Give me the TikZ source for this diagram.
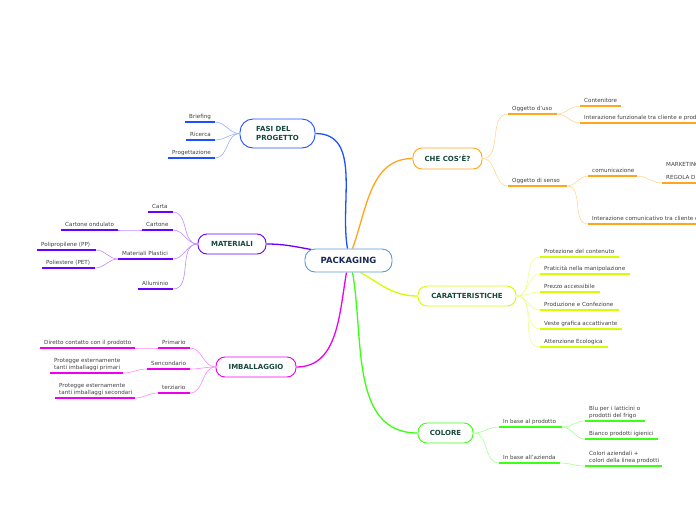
\documentclass[tikz,border=0pt]{standalone}
\usepackage{fontspec}
\setmainfont{DejaVu Sans}
\usetikzlibrary{positioning,backgrounds}
\definecolor{pkgline}{HTML}{5B9BD5}
\definecolor{pkgtext}{HTML}{1B2A55}
\definecolor{topictext}{HTML}{17483B}
\definecolor{leaftext}{HTML}{404040}
\definecolor{fasi}{HTML}{1F4FFF}
\definecolor{mat}{HTML}{6A00FF}
\definecolor{imb}{HTML}{EE00EE}
\definecolor{che}{HTML}{FFA51F}
\definecolor{car}{HTML}{D4FF00}
\definecolor{colore}{HTML}{3CFF14}

\begin{document}
\begin{tikzpicture}[x=1pt,y=-1pt,
    topic/.style={draw,line width=0.9pt,fill=white,rounded corners=9pt,inner sep=0pt,align=left,
      text=topictext,font=\bfseries\fontsize{7}{8.5}\selectfont,minimum height=20pt},
    leaf/.style={anchor=base west,inner sep=0pt,align=left,text=leaftext,font=\fontsize{5.6}{6.6}\selectfont},
    uline/.style={line width=1.3pt},
    twig/.style={line width=0.6pt},
    branch/.style={line width=1.3pt}]
\useasboundingbox (0,0) rectangle (696,520);
% root and the six main topics
\node[topic,draw=pkgline,text=pkgtext,font=\bfseries\fontsize{8.5}{10}\selectfont,minimum width=87pt,minimum height=23pt,rounded corners=10pt] (pkg) at (348.5,260.5) {PACKAGING};
\node[topic,draw=fasi,minimum width=75pt,minimum height=29pt,rounded corners=13pt] (fasi) at (277.5,133.5) {FASI DEL\\PROGETTO};
\node[topic,draw=mat,minimum width=68pt] (mat) at (232,244) {MATERIALI};
\node[topic,draw=imb,minimum width=80pt] (imb) at (256,367) {IMBALLAGGIO};
\node[topic,draw=che,minimum width=69pt,minimum height=21pt] (che) at (447.5,158.5) {CHE COS'È?};
\node[topic,draw=car,minimum width=98pt] (car) at (467,296) {CARATTERISTICHE};
\node[topic,draw=colore,minimum width=55pt] (colore) at (445.5,433) {COLORE};
% main branches, kept under the nodes
\begin{scope}[on background layer]
\draw[branch,fasi] ([xshift=-1pt]pkg.north) to[out=100,in=0] (fasi.east);
\draw[branch,che] ([xshift=4pt]pkg.north) to[out=70,in=180] (che.west);
\draw[branch,mat] ([xshift=7pt,yshift=-1pt]pkg.north west) to[out=170,in=0] (mat.east);
\draw[branch,imb] ([xshift=-2pt]pkg.south) to[out=-100,in=0] (imb.east);
\draw[branch,colore] ([xshift=4pt]pkg.south) to[out=-80,in=180] (colore.west);
\draw[branch,car] ([xshift=12pt]pkg.south) to[out=-30,in=180] (car.west);
\end{scope}
% left side: twig runs from the parent to the right end of the underline
\foreach \nm/\pa/\xa/\xb/\yy/\cc/\tx in {
    brief/fasi.west/185/215/122/fasi/Briefing,
    ric/fasi.west/186/215/140/fasi/Ricerca,
    prog/fasi.west/168/215/158/fasi/Progettazione,
    carta/mat.west/148/173/212/mat/Carta,
    cart/mat.west/142/173/230/mat/Cartone,
    plast/mat.west/118/173/259/mat/Materiali Plastici,
    allu/mat.west/138/173/289/mat/Alluminio,
    ond/cart-l/61/118/230/mat/Cartone ondulato,
    pp/plast-l/37/96/250/mat/Polipropilene (PP),
    pet/plast-l/42/95/268/mat/Poliestere (PET),
    prim/imb.west/158/190/348/imb/Primario,
    sec/imb.west/147/190/369/imb/Sencondario,
    terz/imb.west/158/190/393/imb/terziario,
    dir/prim-l/40/135/348/imb/Diretto contatto con il prodotto,
    prot/sec-l/50/123/373/imb/Protegge esternamente\\tanti imballaggi primari,
    prots/terz-l/55/135/398/imb/Protegge esternamente\\tanti imballaggi secondari} {
  \coordinate (\nm-l) at (\xa,\yy);
  \coordinate (\nm-r) at (\xb,\yy);
  \draw[twig,color=\cc!45] (\pa) to[out=180,in=0] (\nm-r);
  \draw[uline,color=\cc] (\nm-l) -- (\nm-r);
  \node[leaf] (\nm) at ([xshift=4pt,yshift=4pt]\nm-l) {\tx};
}
% right side: twig runs from the parent to the left end of the underline
\foreach \nm/\pa/\xa/\xb/\yy/\cc/\tx in {
    uso/che.east/508/557/114/che/Oggetto d'uso,
    senso/che.east/508/567/186/che/Oggetto di senso,
    cont/uso-r/580/621/106/che/Contenitore,
    funz/uso-r/580/740/123/che/Interazione funzionale tra cliente e prodotto,
    com/senso-r/588/637/176/che/comunicazione,
    icom/senso-r/588/740/224/che/Interazione comunicativo tra cliente e prodotto,
    mkt/com-r/662/740/183/che/MARKETING\\[6.4pt]REGOLA DI,
    c1/car.east/540/619/257/car/Protezione del contenuto,
    c2/car.east/540/630/274/car/Praticità nella manipolazione,
    c3/car.east/540/600/292/car/Prezzo accessibile,
    c4/car.east/540/619/310/car/Produzione e Confezione,
    c5/car.east/540/622/329/car/Veste grafica accattivante,
    c6/car.east/540/608/347/car/Attenzione Ecologica,
    prod/colore.east/499/562/427/colore/In base al prodotto,
    az/colore.east/499/560/463/colore/In base all'azienda,
    blu/prod-r/585/645/421/colore/Blu per i latticini o\\prodotti del frigo,
    bianco/prod-r/585/658/439/colore/Bianco prodotti igienici,
    colaz/az-r/585/662/466/colore/Colori aziendali +\\colori della linea prodotti} {
  \coordinate (\nm-l) at (\xa,\yy);
  \coordinate (\nm-r) at (\xb,\yy);
  \draw[twig,color=\cc!45] (\pa) to[out=0,in=180] (\nm-l);
  \draw[uline,color=\cc] (\nm-l) -- (\nm-r);
  \node[leaf] (\nm) at ([xshift=4pt,yshift=4pt]\nm-l) {\tx};
}
\end{tikzpicture}
\end{document}
